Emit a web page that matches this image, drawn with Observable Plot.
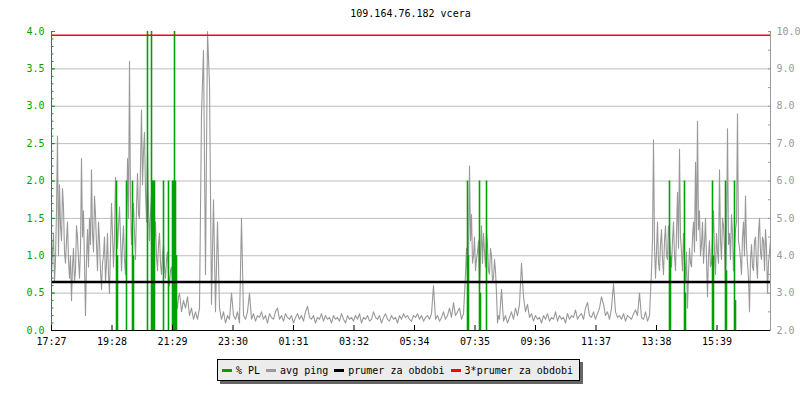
<!DOCTYPE html>
<html><head><meta charset="utf-8">
<script src="https://cdn.jsdelivr.net/npm/d3@7"></script>
<script src="https://cdn.jsdelivr.net/npm/@observablehq/plot@0.6"></script>
<style>
body{margin:0;background:#fff;font-family:"DejaVu Sans Mono",monospace;}
#wrap{position:relative;width:800px;height:400px;overflow:hidden;}
#chart{position:absolute;left:0;top:0;}
#title{position:absolute;left:51px;width:719px;top:8px;text-align:center;font-size:10px;line-height:12px;color:#000;}
#legend{position:absolute;left:217px;top:359px;width:363px;height:22px;box-sizing:border-box;border:1px solid #000;background:#ececec;box-shadow:3px 3px 0 #666;display:flex;align-items:center;font-size:10px;padding-left:4px;color:#000;white-space:pre;}
.sw{width:10px;height:3px;margin-right:4px;flex:none;}
.it{margin-right:6px;}
</style></head>
<body>
<div id="wrap">
  <div id="chart"></div>
  <div id="title"></div>
  <div id="legend"></div>
</div>
<script>
// ---- data ----
const chartTitle = "109.164.76.182 vcera";
const timeTicks = [0,121,242,363,484,605,726,847,968,1089,1210,1331];   // minutes from 17:27
const timeLabels = ["17:27","19:28","21:29","23:30","01:31","03:32","05:34","07:35","09:36","11:37","13:38","15:39"];

// avg ping [ms], in segments: [start minute, step minutes, values]
const pingA = [ // 17:27 - 21:41, every 2 min
  3.5,4.1,4.6,3.3,3.9,5.2,7.2,4.0,5.9,4.8,4.4,5.8,5.3,4.1,3.8,4.4,4.9,3.9,3.4,4.0,
  2.8,3.7,4.2,3.3,3.6,4.8,4.5,3.9,3.4,4.2,6.6,4.5,5.2,3.8,2.4,3.9,4.7,3.7,5.0,4.3,
  6.3,4.6,4.1,5.6,5.1,4.3,3.6,4.9,4.4,3.6,3.1,3.8,4.0,4.5,3.3,3.8,4.6,3.5,3.0,4.2,
  5.4,4.6,3.7,4.5,6.1,5.0,4.2,4.8,5.3,4.5,3.6,4.3,4.8,3.9,3.5,4.6,6.6,5.0,9.2,5.4,
  4.3,4.9,5.4,4.6,3.9,5.3,6.2,5.1,5.0,6.4,7.9,5.9,6.8,7.3,5.7,4.9,6.7,5.3,4.4,5.1,
  5.6,4.5,3.7,4.4,4.9,4.0,3.6,4.3,4.6,3.8,3.5,4.0,4.3,3.7,3.4,3.9,4.1,3.5,3.2,3.6,
  3.7,3.3,2.9,3.2,3.5,2.8,2.6,2.9
];
const pingB = [ // 21:43 - 07:11, every 4 min
  3.0,2.5,2.8,2.6,2.9,2.4,
  2.6,2.3,2.5,2.3,2.6,7.8,9.5,3.5,10.0,8.6,
  2.7,5.5,2.5,4.9,2.6,2.3,2.5,2.2,2.4,2.3,
  3.0,2.4,2.3,2.5,2.2,5.0,2.4,2.3,2.5,3.0,
  2.3,2.45,2.25,2.4,2.35,2.5,2.3,2.4,2.2,2.45,
  2.35,2.3,2.5,2.6,2.3,2.4,2.25,2.45,2.35,2.3,
  2.4,2.2,2.35,2.45,2.3,2.4,2.25,2.5,2.65,2.35,
  2.3,2.4,2.2,2.35,2.3,2.45,2.25,2.4,2.3,2.35,
  2.2,2.4,2.3,2.35,2.25,2.45,2.3,2.2,2.4,2.3,
  2.35,2.25,2.4,2.3,2.45,2.2,2.35,2.3,2.4,2.25,
  2.3,2.5,2.35,2.3,2.4,2.2,2.35,2.45,2.3,2.25,
  2.4,2.3,2.35,2.2,2.4,2.3,2.45,2.35,2.4,2.3,
  2.25,2.4,2.35,2.45,2.3,2.4,2.25,2.35,2.4,2.3,
  2.45,3.2,2.3,2.4,2.25,2.35,2.5,2.3,2.4,2.6,
  2.35,2.75,2.4,2.5,2.6,2.3,2.45
];
const pingD = [ // 07:15 - 08:21, every 2 min
  3.5,4.2,3.4,3.9,6.4,4.4,5.1,3.8,4.0,4.5,3.6,3.9,4.1,4.4,3.1,4.0,4.8,3.8,4.6,4.1,
  3.7,4.6,4.3,3.6,3.5,4.2,4.0,3.3,3.4,3.9,3.6,3.0,2.2,2.4
];
const pingE = [ // 08:23 - 13:23, every 4 min
  2.3,3.1,2.25,2.4,2.2,2.35,
  2.5,2.3,2.6,2.4,2.7,3.8,2.9,2.5,2.7,2.35,
  2.45,2.25,2.4,2.3,2.35,2.2,2.4,2.3,2.45,2.25,
  2.35,2.3,2.5,2.25,2.4,2.3,2.35,2.2,2.45,2.3,
  2.4,2.35,2.55,2.3,2.4,2.45,2.3,2.6,2.75,2.4,
  2.35,2.5,2.3,2.45,2.6,2.9,2.7,2.4,2.5,2.3,
  2.6,3.25,2.5,2.35,2.4,2.3,2.45,2.25,2.4,2.35,
  2.3,2.45,2.55,2.4,3.0,2.35,2.3,2.5,2.25,2.4
];
const pingF = [ // 13:27 - 17:25, every 2 min
  3.6,4.4,7.1,4.3,3.4,4.1,4.9,3.8,3.6,4.3,4.7,3.9,3.5,4.4,4.8,4.0,3.9,4.8,4.5,4.1,
  3.7,4.4,4.9,4.0,3.6,4.6,5.7,4.2,6.85,4.5,4.1,3.6,4.6,3.9,3.3,4.1,2.6,3.5,4.2,3.8,
  3.7,4.5,4.9,4.1,6.5,4.4,7.6,4.7,5.2,4.0,4.3,4.9,3.8,4.3,5.0,3.9,2.9,4.0,4.4,3.7,
  3.8,4.5,5.2,4.1,3.5,4.6,4.1,3.8,6.3,4.4,3.9,5.0,4.8,4.2,3.3,4.5,7.4,4.3,4.6,3.9,
  5.1,4.6,3.6,4.2,4.7,4.9,7.8,4.4,4.2,3.9,3.5,4.5,4.9,4.0,5.6,4.3,3.8,3.4,2.5,3.9,
  4.3,3.7,3.6,4.4,4.5,3.8,3.4,4.6,5.0,4.1,3.9,4.5,4.4,3.6,4.7,4.2,3.0,3.8,4.1,4.4
];
const pingSegments = [[0, 2, pingA], [256, 4, pingB], [828, 2, pingD], [896, 4, pingE], [1200, 2, pingF]];

// packet loss [%] — only the non-zero samples (minute from 17:27, value)
const plMinutes = [130,132,150,162,164,192,200,202,204,206,224,234,242,244,246,248,250,
                   832,834,856,858,870,1236,1238,1266,1268,1322,1324,1348,1350,1366,1368];
const plValues  = [2.0,1.0,2.0,2.0,1.0,4.0,4.0,2.0,2.0,2.0,2.0,2.0,2.0,2.0,4.0,2.0,1.0,
                   2.0,1.0,2.0,0.5,2.0,2.0,1.0,2.0,0.5,2.0,1.0,2.0,0.8,2.0,0.4];
const avgPing = 3.3;              // prumer za obdobi [ms]
const leftTicks = [0,0.5,1,1.5,2,2.5,3,3.5,4];
const gridTicks = [0.5,1,1.5,2,2.5,3,3.5];
const legendItems = ["% PL","avg ping","prumer za obdobi","3*prumer za obdobi"];
const legendColors = ["#00a000","#999999","#000000","#ff0000"];

// ---- build ----
const GREEN = legendColors[0], GRAY = legendColors[1];
const toLeft = ms => (ms - 2) / 2;   // right axis 2..10 ms  <->  left axis 0..4 %
const ping = pingSegments.flatMap(([start, step, vals]) => vals.map((v, i) => ({t: start + i * step, v})));
const pl = plMinutes.map((t, i) => ({t, v: plValues[i]}));
const minorLeft = d3.range(0, 4.0001, 0.1);
const rightTicks = d3.range(0, 4.0001, 0.25);

const chart = Plot.plot({
  width: 800, height: 400,
  marginTop: 31, marginBottom: 70, marginLeft: 51, marginRight: 30,
  style: {fontFamily: "DejaVu Sans Mono, monospace", fontSize: "10px", background: "white", overflow: "visible"},
  x: {domain: [0, 1438], axis: null},
  y: {domain: [0, 4], axis: null},
  marks: [
    Plot.gridY(gridTicks, {stroke: "#bdbdbd", strokeOpacity: 1}),
    Plot.line(ping, {x: "t", y: d => toLeft(d.v), stroke: GRAY, strokeWidth: 1.1}),
    Plot.ruleX(pl, {x: "t", y1: 0, y2: "v", stroke: GREEN, strokeWidth: 1.6}),
    Plot.ruleY([toLeft(avgPing)], {stroke: legendColors[2], strokeWidth: 2.5}),
    Plot.ruleY([toLeft(3 * avgPing)], {stroke: legendColors[3], strokeWidth: 1.5}),
    Plot.ruleX([0], {stroke: GREEN}),
    Plot.ruleX([1438], {stroke: "#999"}),
    Plot.axisY(minorLeft, {anchor: "left", label: null, tickSize: -2.5, tickFormat: () => "", color: GREEN}),
    Plot.axisY(leftTicks, {anchor: "left", label: null, tickSize: -4, tickPadding: 11, tickFormat: d => d.toFixed(1), color: GREEN}),
    Plot.axisY(rightTicks, {anchor: "right", label: null, tickSize: -3, tickPadding: 9,
      tickFormat: d => (Math.abs(d * 2 % 1) < 1e-9 ? (2 + 2 * d).toFixed(1) : ""), color: "#999"}),
    Plot.ruleY([0], {stroke: "#000"}),
    Plot.axisX(timeTicks, {anchor: "bottom", label: null, tickSize: -5, tickPadding: 12,
      tickFormat: d => timeLabels[timeTicks.indexOf(d)], color: "#000"})
  ]
});
document.getElementById("chart").appendChild(chart);
document.getElementById("title").textContent = chartTitle;
const lg = document.getElementById("legend");
legendItems.forEach((name, i) => {
  const sw = document.createElement("span");
  sw.className = "sw"; sw.style.background = legendColors[i];
  const tx = document.createElement("span");
  tx.className = "it"; tx.textContent = name;
  lg.appendChild(sw); lg.appendChild(tx);
});
</script>
</body></html>
